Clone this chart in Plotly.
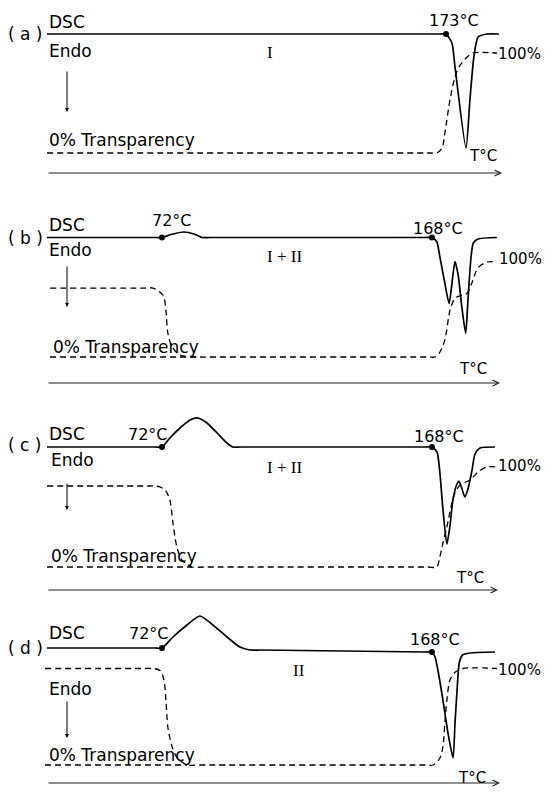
import plotly.graph_objects as go

W, H = 545, 794

# ---------------------------------------------------------------------------
# Data: DSC heat flow (a.u., exo up / endo down) and transparency (%) vs T (°C)
# ---------------------------------------------------------------------------
# (a) form I
dsc_T_a = [31.1, 170.5, 173.0, 175.1, 176.2, 180.1, 181.5, 182.9, 184.4, 187.6, 191.8]
dsc_a = [0, 0, 0, -0.9, -3.3, -11.4, -6.6, -2.3, -0.3, 0, 0]
tr_T_a = [31.1, 167.5, 169.8, 171.6, 172.6, 174.4, 176.2, 177.6, 180.5, 182.6, 191.1]
tr_a = [0, 0, 0, 5, 20, 53, 76, 86, 96, 100, 100]
onset_T_a = [173.0]
onset_dsc_a = [0]

# (b) forms I + II
dsc_T_b = [31.1, 70.0, 72.0, 75.2, 79.8, 83.4, 86.2, 89.0, 165.5, 168.0, 169.7, 170.8,
           172.6, 174.1, 175.4, 176.2, 177.4, 178.6, 180.0, 180.8, 181.9, 182.7, 184.4, 191.1]
dsc_b = [0, 0, 0, 0.3, 0.55, 0.35, 0, 0, 0, 0, -0.4, -1.9,
         -4.6, -6.6, -3.9, -2.4, -3.9, -6.9, -9.6, -6.25, -1.95, -0.55, -0.15, 0]
tr_T_b = [32.2, 66.0, 68.8, 72.4, 73.4, 74.1, 75.6, 78.4, 85.5, 90.0, 166.5, 169.1, 170.8,
          172.6, 174.4, 176.2, 178.7, 180.5, 182.2, 184.4, 187.6, 191.1]
tr_b = [72.6, 72.6, 72.6, 65, 49, 25, 10.5, 2, 0, 0, 0, 0, 5,
        18, 49, 62, 65, 67, 78, 94, 100, 100]
zero_T_b = [32.2, 85.5]
onset_T_b = [72.0, 168.0]
onset_dsc_b = [0, 0]

# (c) forms I + II
dsc_T_c = [31.1, 69.5, 72.0, 74.8, 78.4, 82.0, 84.8, 88.0, 91.6, 95.1, 97.2, 100.0,
           165.5, 168.0, 169.8, 170.8, 171.9, 173.3, 174.4, 175.5, 176.9, 177.6,
           178.7, 179.7, 180.8, 182.2, 183.3, 185.1, 190.4]
dsc_c = [0, 0, 0, 0.9, 1.9, 2.7, 2.9, 2.4, 1.4, 0.4, 0, 0,
         0, 0, -0.5, -2.5, -6.2, -9.7, -7.9, -5.2, -3.7, -3.4,
         -4.2, -5.0, -4.2, -2.4, -0.7, -0.1, 0]
tr_T_c = [31.1, 67.5, 70.2, 73.1, 74.8, 75.9, 77.3, 79.1, 82.7, 87.0, 166.5, 169.7,
          170.8, 171.9, 173.3, 175.1, 176.2, 178.0, 181.5, 184.4, 187.6, 191.1]
tr_c = [81, 81, 81, 77, 67, 44, 20, 7, 0, 0, 0, 0,
        10, 24, 40, 64, 74, 82, 87, 95, 100, 100]
zero_T_c = [31.1, 82.7]
onset_T_c = [72.0, 168.0]
onset_dsc_c = [0, 0]

# (d) form II
dsc_T_d = [31.1, 69.5, 72.0, 75.9, 80.9, 85.5, 90.1, 95.1, 99.7, 103.3, 107.0,
           165.5, 168.0, 169.1, 170.1, 171.9, 173.7, 175.5, 176.2, 177.0, 177.7,
           178.9, 181.5, 190.4]
dsc_d = [0.2, 0.2, 0.2, 1.3, 2.5, 3.4, 2.5, 1.3, 0.3, 0, 0,
         -0.2, -0.2, -0.7, -2.0, -5.0, -8.3, -10.8, -7.3, -3.7, -1.3,
         -0.5, -0.3, -0.2]
tr_T_d = [30.4, 66.0, 68.8, 71.3, 72.7, 73.4, 74.1, 75.6, 77.3, 80.9, 85.0, 165.5,
          168.4, 170.8, 171.9, 172.6, 173.3, 174.4, 176.2, 179.0, 191.1]
tr_d = [100, 100, 100, 98, 88, 67, 39, 19, 8, 0, 0, 0,
        0, 7, 19, 44, 67, 88, 96, 100, 100]
zero_T_d = [30.4, 80.9]
onset_T_d = [72.0, 168.0]
onset_dsc_d = [0.2, -0.2]

# Text labels
panel_tags = ["( a )", "( b )", "( c )", "( d )"]
phase_labels = ["I", "I + II", "I + II", "II"]
onset_labels_a = ["173°C"]
onset_labels_bcd = ["72°C", "168°C"]

# ---------------------------------------------------------------------------
# Layout geometry (pixels from top-left of the page)
# ---------------------------------------------------------------------------
X_LO, X_HI = 14.4, 208.2        # temperature range spanning the page width
DSC_PX = 10.0                   # pixels per DSC unit

panels = [
    dict(dsc_T=dsc_T_a, dsc=dsc_a, tr_T=tr_T_a, tr=tr_a, zero_T=None,
         on_T=onset_T_a, on_y=onset_dsc_a, on_lab=onset_labels_a,
         base=34, tr0=153, tr100=53, axis=173,
         tag=(25, 34), dsc_lab=(48, 22), endo=(48, 51), arrow=(67, 70, 112),
         zero_lab=(48, 140), phase=(270, 52), on_pos=[("c", 454, 20)],
         pct=(497, 54), tc=(468, 156), axis_x=(47, 502)),
    dict(dsc_T=dsc_T_b, dsc=dsc_b, tr_T=tr_T_b, tr=tr_b, zero_T=zero_T_b,
         on_T=onset_T_b, on_y=onset_dsc_b, on_lab=onset_labels_bcd,
         base=237.5, tr0=357, tr100=262, axis=383,
         tag=(25, 238), dsc_lab=(48, 225), endo=(48, 250), arrow=(67, 265, 307),
         zero_lab=(52, 347), phase=(284, 256), on_pos=[("c", 172, 221), ("c", 438, 228)],
         pct=(498, 259), tc=(458, 369), axis_x=(47, 500)),
    dict(dsc_T=dsc_T_c, dsc=dsc_c, tr_T=tr_T_c, tr=tr_c, zero_T=zero_T_c,
         on_T=onset_T_c, on_y=onset_dsc_c, on_lab=onset_labels_bcd,
         base=447, tr0=567, tr100=467, axis=590,
         tag=(24, 445), dsc_lab=(48, 434), endo=(50, 460), arrow=(67, 482, 510),
         zero_lab=(50, 556), phase=(284, 467), on_pos=[("l", 127, 434), ("c", 439, 436)],
         pct=(497, 466), tc=(455, 578), axis_x=(47, 498)),
    dict(dsc_T=dsc_T_d, dsc=dsc_d, tr_T=tr_T_d, tr=tr_d, zero_T=zero_T_d,
         on_T=onset_T_d, on_y=onset_dsc_d, on_lab=onset_labels_bcd,
         base=650, tr0=765, tr100=668.5, axis=783,
         tag=(25, 648), dsc_lab=(48, 633), endo=(48, 689), arrow=(67, 700, 738),
         zero_lab=(48, 755), phase=(299, 670), on_pos=[("l", 128, 633), ("c", 435, 639)],
         pct=(497, 670), tc=(457, 778), axis_x=(47, 500)),
]

FONT = dict(family="DejaVu Sans", size=17, color="black")
FONT_SMALL = dict(family="DejaVu Sans", size=16, color="black")
FONT_PCT = dict(family="DejaVu Sans", size=15, color="black")
SERIF = dict(family="Liberation Serif", size=17, color="black")


def px(x):
    return x / W


def py(y):
    return 1 - y / H


fig = go.Figure()
layout = dict(
    width=W, height=H,
    margin=dict(l=0, r=0, t=0, b=0),
    paper_bgcolor="white", plot_bgcolor="white",
    showlegend=False, hovermode=False,
    xaxis=dict(range=[X_LO, X_HI], visible=False, domain=[0, 1], fixedrange=True),
)
annotations = []


def text(s, x, y, anchor="left", font=FONT):
    annotations.append(dict(text=s, x=px(x), y=py(y), xref="paper", yref="paper",
                            xanchor=anchor, yanchor="middle", showarrow=False,
                            font=font, borderpad=0))


for i, p in enumerate(panels):
    n_dsc, n_tr = 2 * i + 1, 2 * i + 2
    ya_dsc = "y" if n_dsc == 1 else f"y{n_dsc}"
    ya_tr = f"y{n_tr}"

    # DSC axis: value 0 sits on the panel baseline, endotherms point down
    dsc_axis = dict(range=[(p["base"] - H) / DSC_PX, p["base"] / DSC_PX],
                    visible=False, domain=[0, 1], fixedrange=True)
    if n_dsc != 1:
        dsc_axis["overlaying"] = "y"
    layout["yaxis" if n_dsc == 1 else f"yaxis{n_dsc}"] = dsc_axis

    # Transparency axis: 0 % and 100 % levels of the panel
    span = p["tr0"] - p["tr100"]
    layout[f"yaxis{n_tr}"] = dict(
        range=[(p["tr0"] - H) * 100 / span, p["tr0"] * 100 / span],
        visible=False, overlaying="y", fixedrange=True)

    # transparency curve (dashed)
    fig.add_trace(go.Scatter(
        x=p["tr_T"], y=p["tr"], xaxis="x", yaxis=ya_tr, mode="lines",
        line=dict(color="black", width=1.3, dash="6px,4px", shape="spline", smoothing=0.8)))
    if p["zero_T"] is not None:
        fig.add_trace(go.Scatter(
            x=p["zero_T"], y=[0, 0], xaxis="x", yaxis=ya_tr, mode="lines",
            line=dict(color="black", width=1.3, dash="6px,4px")))

    # DSC curve (solid)
    fig.add_trace(go.Scatter(
        x=p["dsc_T"], y=p["dsc"], xaxis="x", yaxis=ya_dsc, mode="lines",
        line=dict(color="black", width=1.7, shape="spline", smoothing=0.6)))
    fig.add_trace(go.Scatter(
        x=p["on_T"], y=p["on_y"], xaxis="x", yaxis=ya_dsc, mode="markers",
        marker=dict(color="black", size=6)))

    text(panel_tags[i], *p["tag"], anchor="center")
    text("DSC", *p["dsc_lab"])
    text("Endo", *p["endo"])
    text("0% Transparency", *p["zero_lab"])
    text(phase_labels[i], *p["phase"], anchor="center", font=SERIF)
    for lab, (a, x, y) in zip(p["on_lab"], p["on_pos"]):
        text(lab, x, y, anchor="center" if a == "c" else "left", font=FONT_SMALL)
    text("100%", *p["pct"], font=FONT_PCT)
    text("T°C", *p["tc"], font=FONT_PCT)

    # Endo arrow
    ax_x, y_top, y_bot = p["arrow"]
    annotations.append(dict(x=px(ax_x), y=py(y_bot), xref="paper", yref="paper",
                            ax=0, ay=-(y_bot - y_top), axref="pixel", ayref="pixel",
                            text="", showarrow=True, arrowhead=2, arrowsize=0.8,
                            arrowwidth=1, arrowcolor="black"))
    # temperature axis arrow
    x0, x1 = p["axis_x"]
    annotations.append(dict(x=px(x1), y=py(p["axis"]), xref="paper", yref="paper",
                            ax=-(x1 - x0), ay=0, axref="pixel", ayref="pixel",
                            text="", showarrow=True, arrowhead=5, arrowsize=1.2,
                            arrowwidth=1, arrowcolor="#222"))

layout["annotations"] = annotations
fig.update_layout(**layout)
fig.write_html("out.html")
